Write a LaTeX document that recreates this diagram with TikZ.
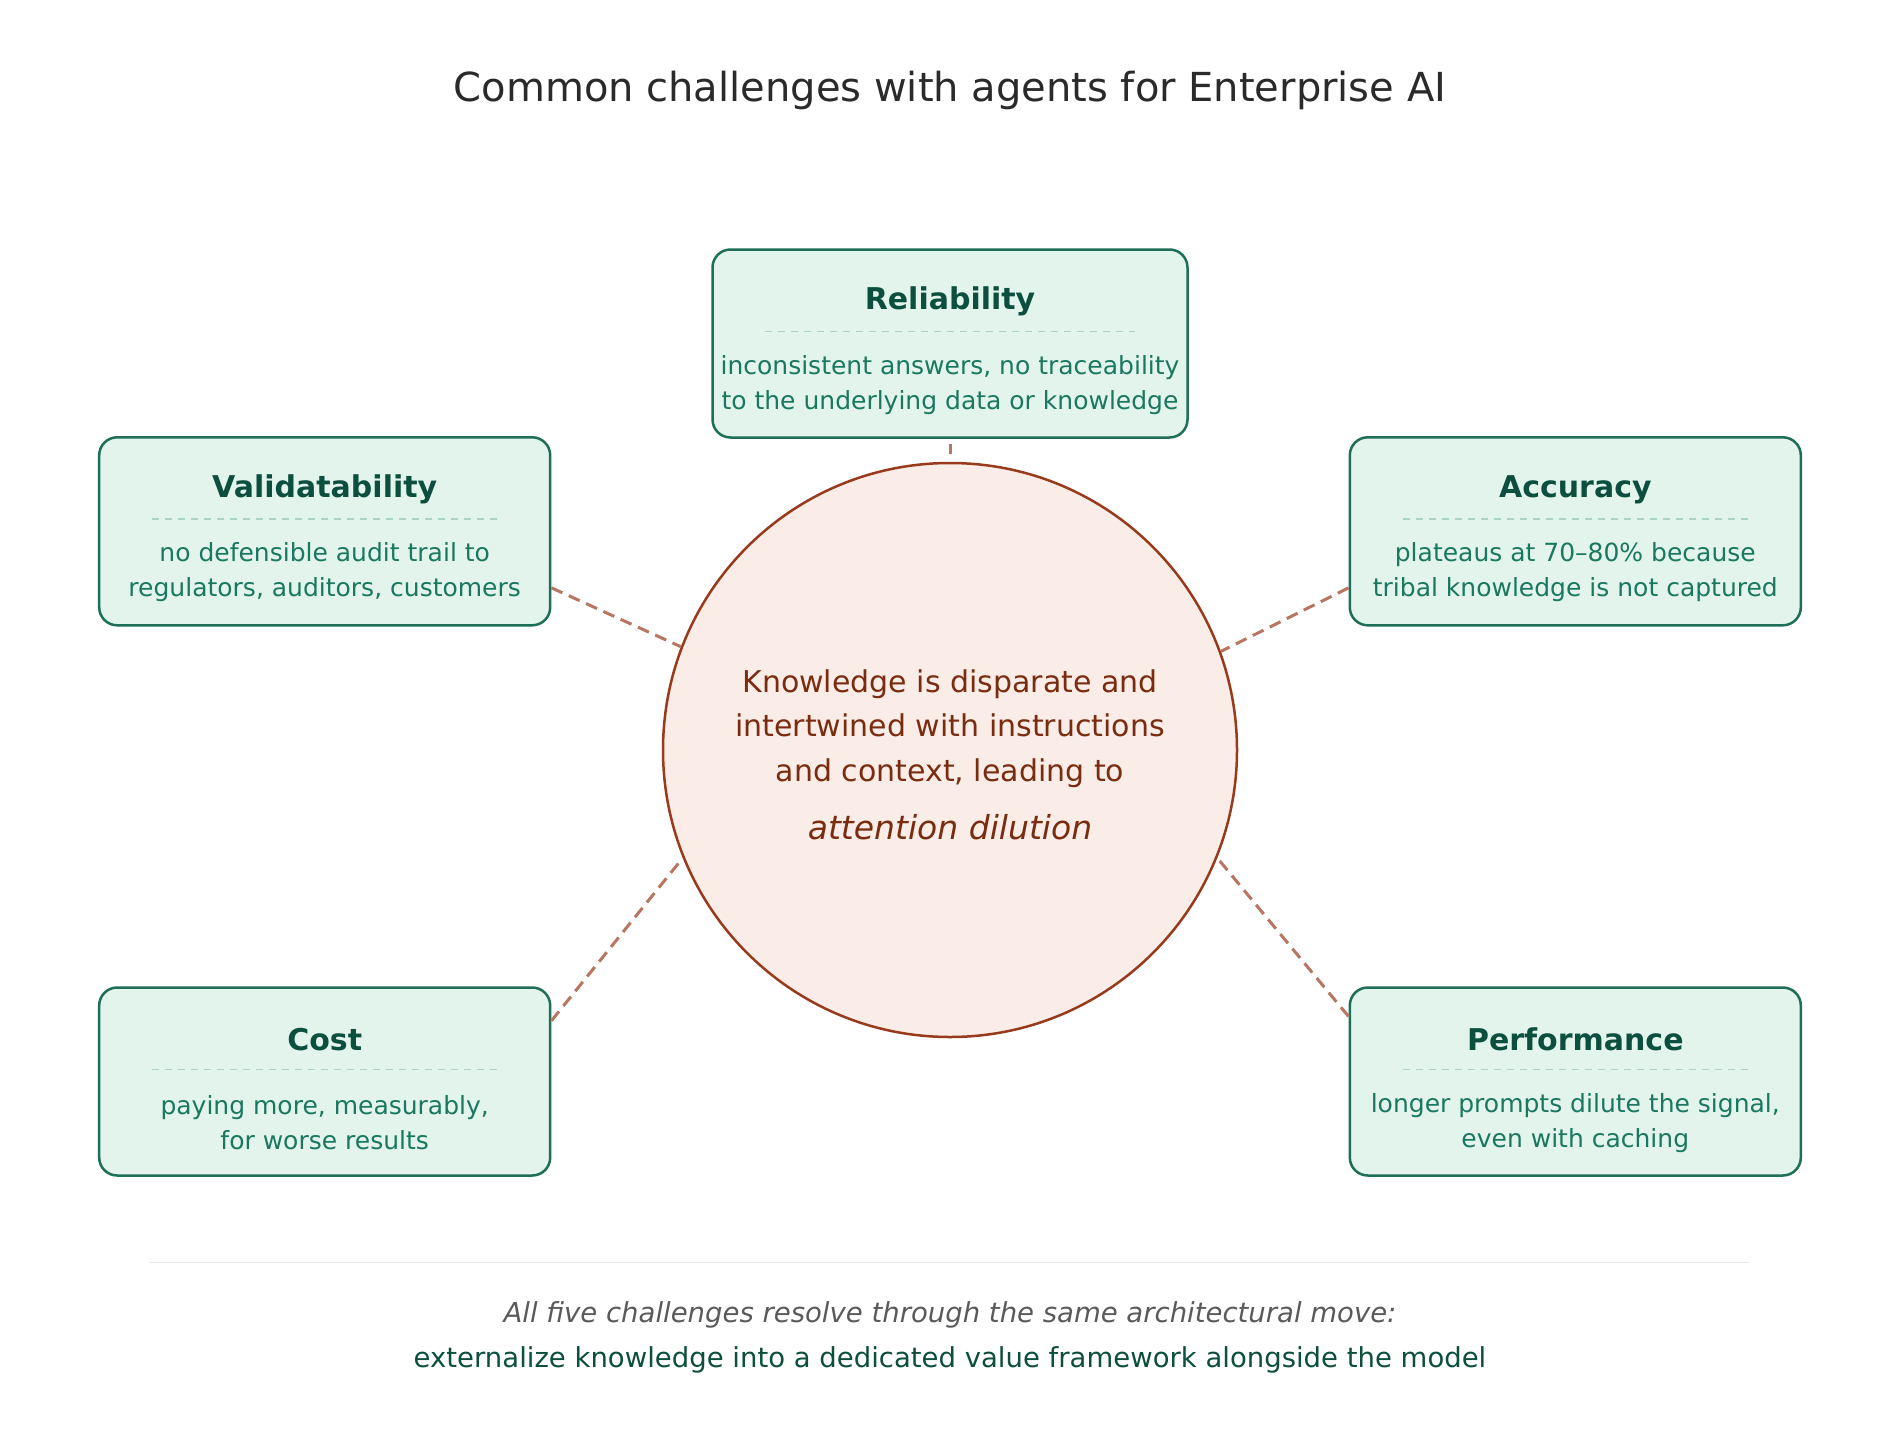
\documentclass[tikz,border=0pt]{standalone}
\usepackage{fontspec}
\setmainfont{DejaVu Sans}
\usetikzlibrary{calc, positioning}

\definecolor{cardfill}{HTML}{E2F4EC}
\definecolor{cardline}{HTML}{1E6E58}
\definecolor{cardhead}{HTML}{0D4F3F}
\definecolor{cardtext}{HTML}{1A7760}
\definecolor{sepline}{HTML}{A9D3C2}
\definecolor{hubfill}{HTML}{FAECE6}
\definecolor{hubline}{HTML}{983A1C}
\definecolor{hubtext}{HTML}{7A2C10}
\definecolor{linkline}{HTML}{B87662}
\definecolor{titletext}{HTML}{2A2A2A}
\definecolor{notegray}{HTML}{5A5A5A}
\definecolor{rulegray}{HTML}{E6E6E6}

\tikzset{
  card/.style={draw=cardline, fill=cardfill, line width=2.5pt, rounded corners=18pt,
    minimum width=451pt, minimum height=188pt, inner sep=0pt},
  cardtitle/.style={text=cardhead, font=\fontsize{30}{35}\selectfont\bfseries, inner sep=0pt},
  cardbody/.style={text=cardtext, font=\fontsize{25}{35}\selectfont, align=center, inner sep=0pt},
  cardsep/.style={draw=sepline, line width=1.2pt, dash pattern=on 7pt off 6pt},
  hub/.style={circle, draw=hubline, fill=hubfill, line width=2.5pt, minimum size=574pt,
    inner sep=0pt, text=hubtext, align=center, font=\fontsize{30}{44.5}\selectfont},
  link/.style={draw=linkline, line width=3pt, dash pattern=on 12pt off 7pt}
}

\begin{document}
\begin{tikzpicture}[x=1pt, y=-1pt, line join=round]
\def\sepmargin{54}
\useasboundingbox[fill=white] (0,0) rectangle (1900,1450);

% Heading
\node[text=titletext, font=\fontsize{40}{48}\selectfont] (heading) at (950,90.5)
  {Common challenges with agents for Enterprise AI};

% Central circle
\node[hub] (hub) at (950,750) {\rule{0pt}{31.5pt}Knowledge is disparate and\\intertwined with instructions\\and context, leading to\\[13.5pt]
  {\fontsize{33}{40}\selectfont\itshape attention dilution}};

% The five challenge cards
\node[card, minimum width=475pt] (rel) at (950,343.5) {};
\node[card] (val) at (324.7,531.3) {};
\node[card] (acc) at (1575.3,531.3) {};
\node[card] (cost) at (324.7,1081.5) {};
\node[card] (perf) at (1575.3,1081.5) {};

% Card contents: heading, dashed rule, description
\node[cardtitle] (reltitle) at ($(rel.north)+(0,53.5)$) {Reliability};
\draw[cardsep] ($(rel.north west)+(\sepmargin,83)$) -- ($(rel.north east)+(-\sepmargin,83)$);
\node[cardbody] (reltext) at ($(rel.north)+(0,136.5)$) {inconsistent answers, no traceability\\to the underlying data or knowledge};

\node[cardtitle] (valtitle) at ($(val.north)+(0,53.5)$) {Validatability};
\draw[cardsep] ($(val.north west)+(\sepmargin,83)$) -- ($(val.north east)+(-\sepmargin,83)$);
\node[cardbody] (valtext) at ($(val.north)+(0,136.5)$) {no defensible audit trail to\\regulators, auditors, customers};

\node[cardtitle] (acctitle) at ($(acc.north)+(0,53.5)$) {Accuracy};
\draw[cardsep] ($(acc.north west)+(\sepmargin,83)$) -- ($(acc.north east)+(-\sepmargin,83)$);
\node[cardbody] (acctext) at ($(acc.north)+(0,136.5)$) {plateaus at 70–80\% because\\tribal knowledge is not captured};

\node[cardtitle] (costtitle) at ($(cost.north)+(0,53.5)$) {Cost};
\draw[cardsep] ($(cost.north west)+(\sepmargin,83)$) -- ($(cost.north east)+(-\sepmargin,83)$);
\node[cardbody] (costtext) at ($(cost.north)+(0,136.5)$) {paying more, measurably,\\for worse results};

\node[cardtitle] (perftitle) at ($(perf.north)+(0,53.5)$) {Performance};
\draw[cardsep] ($(perf.north west)+(\sepmargin,83)$) -- ($(perf.north east)+(-\sepmargin,83)$);
\node[cardbody] (perftext) at ($(perf.north)+(0,136.5)$) {longer prompts dilute the signal,\\even with caching};

% Dashed links from the cards to the circle
\draw[link, shorten <=5pt, shorten >=8pt] (rel.south) -- (hub.north);
\draw[link] (val.-14.6) -- (hub.159.6);
\draw[link] (acc.194.6) -- (hub.20.4);
\draw[link] (cost.15.3) -- (hub.202.8);
\draw[link] (perf.164.7) -- (hub.-22.8);

% Closing note
\coordinate (ruleleft) at (150,1262.6);
\coordinate (ruleright) at (1748.5,1262.6);
\draw[rulegray, line width=1.5pt] (ruleleft) -- (ruleright);
\node[text=notegray, font=\fontsize{27.5}{33}\selectfont\itshape] (noteone) at (950,1314.5)
  {All five challenges resolve through the same architectural move:};
\node[text=cardhead, font=\fontsize{27.5}{33}\selectfont, below=12pt of noteone] (notetwo)
  {externalize knowledge into a dedicated value framework alongside the model};
\end{tikzpicture}
\end{document}
